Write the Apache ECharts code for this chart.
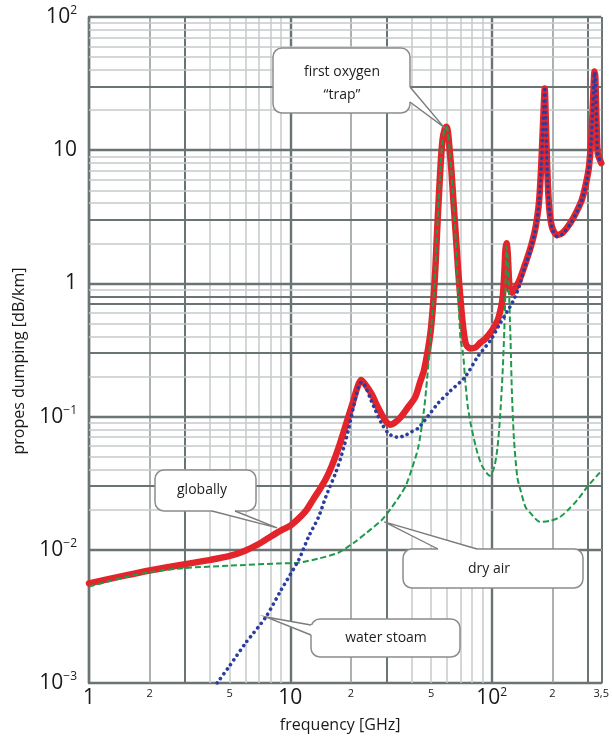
<!DOCTYPE html>
<html><head><meta charset="utf-8">
<script src="https://cdn.jsdelivr.net/npm/echarts@6/dist/echarts.min.js"></script>
<style>html,body{margin:0;padding:0;background:#fff}#c{width:612px;height:746px}</style>
</head><body><div id="c"></div>
<script>
// ---- data (frequency GHz, attenuation dB/km) ----
const globallyData = [
 [1,0.0056],[1.5,0.0064],[2,0.0070],[3,0.0078],[4,0.0084],[5,0.0090],[6,0.0099],[7,0.0111],[8,0.0126],[9,0.0140],
 [10,0.0152],[11,0.0172],[12,0.0198],[13,0.0240],[14,0.0285],[15,0.0340],[16,0.042],[17.4,0.059],[19,0.090],
 [20.5,0.130],[21.5,0.165],[22.4,0.188],[23.5,0.175],[25.3,0.148],[27,0.120],[28.4,0.104],[30,0.091],[31.4,0.087],
 [33,0.090],[35.5,0.100],[38,0.115],[41.7,0.140],[44,0.180],[46,0.22],[47.5,0.28],[49,0.37],[50,0.47],[51.5,0.80],
 [52.5,1.3],[53.5,2.4],[54.5,4.2],[55.8,8.0],[57,12],[58.5,14.5],[59.5,15],[60.5,14],[62,9.5],[63,7.2],[64.5,4.2],
 [66.2,2.4],[68,1.3],[70,0.75],[72,0.48],[74.4,0.35],[78,0.325],[83,0.33],[88,0.36],[92.3,0.38],[100,0.44],
 [107,0.53],[111,0.65],[113.5,0.80],[115.5,1.2],[117,1.8],[118.5,2.0],[120,1.7],[121.5,1.15],[123,0.90],[126,0.85],
 [130,0.90],[137,1.05],[145,1.33],[155,1.8],[163,2.4],[168,3.1],[172,4.2],[176,7.5],[179,13.5],[181.5,22],[183.3,29],
 [185,20],[187,11],[190,5.5],[194,3.4],[200,2.6],[211,2.3],[225,2.4],[246,2.85],[265,3.5],[281,4.3],[295,5.8],
 [304,7.5],[312,12],[316,17.7],[320,28],[324,39],[327,35],[332,15],[336,9.5],[350,8.0]
];
const waterSteamData = [
 [4.33,0.001],[5,0.00135],[6,0.0020],[7.56,0.00313],[9,0.0050],[11,0.0084],[12.3,0.0125],[13.8,0.0176],[15,0.025],
 [16.8,0.038],[18,0.052],[19.4,0.079],[20.5,0.115],[21.8,0.167],[22.6,0.182],[23.5,0.170],[24.8,0.140],[26.4,0.112],
 [28.5,0.088],[30.6,0.075],[32.5,0.071],[34.3,0.070],[37,0.072],[40,0.077],[43.2,0.082],[50,0.108],[54.4,0.127],
 [62,0.155],[73.7,0.198],[85,0.28],[98.8,0.376],[110,0.50],[127,0.725],[137,0.95],[145,1.28],[155,1.75],[163,2.35],
 [168,3.0],[172,4.1],[176,7.3],[179,13],[181.5,21],[183.3,28.5],[185,19.5],[187,10.8],[190,5.4],[194,3.35],[200,2.55],
 [211,2.25],[225,2.35],[246,2.8],[265,3.45],[281,4.25],[295,5.7],[304,7.4],[312,11.8],[316,17.5],[320,27.5],
 [324,38.5],[327,34.5],[332,15],[336,9.4],[350,7.9]
];
const dryAirData = [
 [1,0.0053],[1.5,0.0062],[2,0.0068],[3,0.0073],[5,0.0076],[8.8,0.0079],[11,0.0080],[13.8,0.0086],[17.3,0.0095],
 [21,0.0115],[24,0.0135],[28.4,0.0167],[32,0.021],[37.1,0.0295],[40,0.040],[43.2,0.059],[46,0.11],[47.2,0.158],
 [49,0.30],[50,0.45],[51.5,0.80],[52.5,1.3],[53.5,2.4],[54.5,4.2],[55.8,8.0],[57,12],[58.5,14.5],[59.5,15],
 [60.5,14],[62,9.3],[63,7.0],[64.5,4.0],[66.2,2.2],[67.7,1.0],[69,0.55],[70.1,0.376],[72,0.30],[74,0.18],[76,0.12],
 [79,0.085],[85,0.053],[90,0.042],[97.8,0.036],[103,0.042],[107,0.060],[110,0.10],[113,0.20],[115.5,0.45],[117,0.9],
 [118.5,1.9],[120,1.6],[121.5,1.0],[123,0.55],[124,0.376],[126,0.15],[129,0.067],[134,0.035],[139,0.028],[147,0.021],
 [155,0.019],[174,0.0162],[195,0.0165],[218,0.0176],[240,0.020],[266,0.0236],[300,0.030],[343,0.0378],[350,0.039]
];
// ---- ticks ----
const xTickValues = [1,2,5,10,20,50,100,200,350];
const xTickBase   = ['1','2','5','10','2','5','10','2','3,5'];
const xTickExp    = ['','','','','','','2','',''];
const xTickBig    = [true,false,false,true,false,false,true,false,false];
const yTickValues = [0.001,0.01,0.1,1,10,100];
const yTickBase   = ['10','10','10','1','10','10'];
const yTickExp    = ['−3','−2','−1','','','2'];
// grid (log paper) lines
const xDecades = [1,10,100];
const yDecades = [0.001,0.01,0.1,1,10];
const multipliers = [2,3,4,5,6,7,8,9];

const FONT = '"Open Sans", "Noto Sans", sans-serif';
const DARK = '#6b7474', MED = '#8f9696', LIGHT = '#c6caca';

const gridLines = [];
xDecades.forEach(d => {
  gridLines.push({xAxis: d, lineStyle: {color: DARK, width: 2.4, type: 'solid'}});
  multipliers.forEach(m => { const v = d*m; if (v < 350)
    gridLines.push({xAxis: v, lineStyle: {color: (m===3)?DARK:(m===2?MED:LIGHT), width: (m===3)?2:1.5, type: 'solid'}}); });
});
gridLines.push({xAxis: 350, lineStyle: {color: DARK, width: 2, type: 'solid'}});
yDecades.forEach(d => {
  gridLines.push({yAxis: d, lineStyle: {color: DARK, width: 2.4, type: 'solid'}});
  multipliers.forEach(m => { const v = d*m;
    const med = (m===3) || (d===0.1 && (m===7||m===8));
    gridLines.push({yAxis: v, lineStyle: {color: med?DARK:LIGHT, width: med?1.8:1.5, type: 'solid'}}); });
});
gridLines.push({yAxis: 100, lineStyle: {color: DARK, width: 2.4, type: 'solid'}});

const chart = echarts.init(document.getElementById('c'), null, {renderer: 'canvas'});
const option = {
  animation: false,
  backgroundColor: '#fff',
  grid: {left: 89, right: 8, top: 17, bottom: 63, containLabel: false},
  xAxis: {
    type: 'log', logBase: 10, min: 1, max: 350,
    name: 'frequency [GHz]', nameLocation: 'middle', nameGap: 34,
    nameTextStyle: {fontFamily: FONT, fontSize: 16, color: '#1a1a1a', padding: [0, 10, 0, 0]},
    axisLine: {show: true, lineStyle: {color: DARK, width: 2.4}},
    axisTick: {show: false}, splitLine: {show: false},
    axisLabel: {
      customValues: xTickValues, margin: 4, color: '#1a1a1a', fontFamily: FONT,
      formatter: function (val) {
        let i = xTickValues.findIndex(t => Math.abs(t - val) / t < 1e-6);
        if (i < 0) return '';
        if (xTickBig[i]) return '{b|' + xTickBase[i] + '}' + (xTickExp[i] ? '{s|' + xTickExp[i] + '}' : '');
        return '{m|' + xTickBase[i] + '}';
      },
      rich: {
        b: {fontFamily: FONT, fontSize: 21, lineHeight: 22, color: '#1a1a1a'},
        s: {fontFamily: FONT, fontSize: 12, lineHeight: 12, verticalAlign: 'top', color: '#1a1a1a'},
        m: {fontFamily: FONT, fontSize: 11, lineHeight: 13, color: '#1a1a1a'}
      }
    }
  },
  yAxis: {
    type: 'log', logBase: 10, min: 0.001, max: 100,
    name: 'propes dumping [dB/km]', nameLocation: 'middle', nameGap: 62,
    nameTextStyle: {fontFamily: FONT, fontSize: 16, color: '#1a1a1a', padding: [0, 22, 0, 0]},
    axisLine: {show: true, lineStyle: {color: DARK, width: 2.4}},
    axisTick: {show: false}, splitLine: {show: false},
    axisLabel: {
      margin: 12, color: '#1a1a1a',
      formatter: function (val) {
        let i = yTickValues.findIndex(t => Math.abs(t - val) / t < 1e-6);
        if (i < 0) return '';
        return '{b|' + yTickBase[i] + '}' + (yTickExp[i] ? '{s|' + yTickExp[i] + '}' : '');
      },
      rich: {
        b: {fontFamily: FONT, fontSize: 21, lineHeight: 24, color: '#1a1a1a'},
        s: {fontFamily: FONT, fontSize: 12, lineHeight: 14, verticalAlign: 'top', color: '#1a1a1a'}
      }
    }
  },
  series: [
    {
      name: 'grid', type: 'line', z: 1, silent: true,
      data: [[1, 0.001], [350, 100]], showSymbol: false, symbol: 'none',
      lineStyle: {opacity: 0},
      markLine: {silent: true, z: 1, symbol: ['none', 'none'], label: {show: false}, animation: false,
        lineStyle: {type: 'solid'}, data: gridLines}
    },
    {
      name: 'globally', type: 'line', z: 10, data: globallyData, symbol: 'none', smooth: 0.25,
      lineStyle: {color: '#e3242b', width: 6.5, cap: 'round', join: 'round'}
    },
    {
      name: 'dry air', type: 'line', z: 11, data: dryAirData, symbol: 'none', smooth: 0.25,
      lineStyle: {color: '#1f9a4c', width: 2, type: [6, 3]}
    },
    {
      name: 'water steam', type: 'line', z: 12, data: waterSteamData, symbol: 'none', smooth: 0.25,
      lineStyle: {color: '#2b3e9e', width: 3.6, type: [0.1, 5.6], cap: 'round'}
    }
  ]
};
chart.setOption(option);

// ---- callouts (box in px, tip anchored to a data point) ----
const notes = [
  {text: 'first oxygen\n“trap”', at: [57.8, 14.9], box: [273, 48, 137, 65], base: [[410, 87], [410, 102]], tc: [342, 84]},
  {text: 'globally', at: [8.6, 0.0146], box: [155, 470, 101, 41], base: [[212, 511], [235, 511]], tc: [202, 490]},
  {text: 'dry air', at: [29.3, 0.0162], box: [403, 549, 180, 39], base: [[438, 549], [477, 549]], tc: [489, 569]},
  {text: 'water stoam', at: [7.56, 0.00313], box: [311, 619, 149, 38], base: [[311, 625], [311, 635]], tc: [386, 638]}
];
const graphics = [];
notes.forEach(n => {
  const tip = chart.convertToPixel({gridIndex: 0}, n.at);
  const [x, y, w, h] = n.box;
  graphics.push({type: 'rect', z: 100, shape: {x, y, width: w, height: h, r: 9},
    style: {fill: '#fff', stroke: '#8c8c8c', lineWidth: 1.5}});
  const b1 = n.base[0], b2 = n.base[1];
  const cx = x + w / 2, cy = y + h / 2;
  const inw = p => [p[0] + Math.sign(cx - p[0]) * (Math.abs(cx - p[0]) > w / 2 - 1 ? 2 : 0),
                    p[1] + Math.sign(cy - p[1]) * (Math.abs(cy - p[1]) > h / 2 - 1 ? 2 : 0)];
  graphics.push({type: 'polygon', z: 101, shape: {points: [inw(b1), b1, tip, b2, inw(b2)]},
    style: {fill: '#fff', stroke: null}});
  graphics.push({type: 'polyline', z: 102, shape: {points: [b1, tip, b2]},
    style: {fill: null, stroke: '#7c7c7c', lineWidth: 1.4}});
  graphics.push({type: 'text', z: 103, x: n.tc[0], y: n.tc[1],
    style: {text: n.text, font: '14px ' + FONT, fill: '#1e1e1e', align: 'center', verticalAlign: 'middle',
      textAlign: 'center', textVerticalAlign: 'middle', lineHeight: 23}});
});
chart.setOption({graphic: graphics});
</script>
</body></html>
